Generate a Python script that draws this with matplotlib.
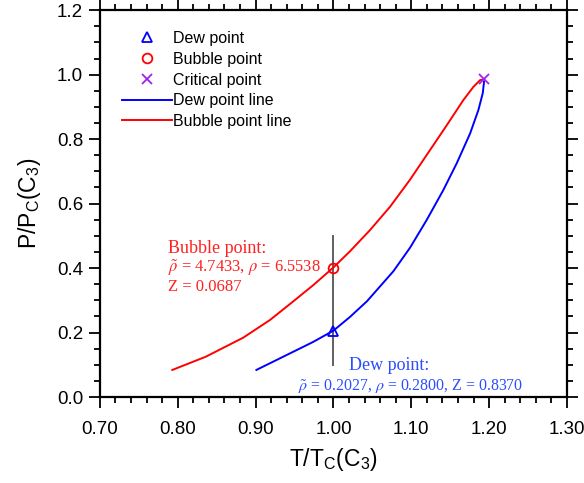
import numpy as np
import matplotlib
matplotlib.use("Agg")
import matplotlib.pyplot as plt
from matplotlib.ticker import MultipleLocator, FormatStrFormatter
from matplotlib.legend_handler import HandlerLine2D

plt.rcParams["font.family"] = ["Liberation Sans", "DejaVu Sans"]
plt.rcParams["mathtext.fontset"] = "stix"

# Bubble point line (red)
T_bubble = [0.793, 0.836, 0.884, 0.9185, 0.948, 0.974, 1.000, 1.0212, 1.047, 1.0726, 1.098,
            1.124, 1.1455, 1.1668, 1.1797, 1.1883, 1.1934]
P_bubble = [0.084, 0.125, 0.184, 0.239, 0.296, 0.347, 0.402, 0.452, 0.518, 0.590, 0.673,
            0.766, 0.843, 0.921, 0.962, 0.983, 0.985]

# Dew point line (blue)
T_dew = [0.901, 0.948, 0.974, 1.000, 1.021, 1.043, 1.0769, 1.0983, 1.1197, 1.1411, 1.1583,
         1.1754, 1.1861, 1.1917, 1.1934]
P_dew = [0.084, 0.140, 0.171, 0.206, 0.248, 0.297, 0.390, 0.463, 0.549, 0.642, 0.725,
         0.817, 0.890, 0.942, 0.978]

# single points
dew_pt = (1.0, 0.206)
bubble_pt = (1.0, 0.400)
crit_pt = (1.1935, 0.985)
vline_T = 1.0
vline_P = (0.10, 0.50)


class ShiftedMarker(HandlerLine2D):
    # marker sits right of the handle centre, like the original legend
    def get_xdata(self, legend, xdescent, ydescent, width, height, fontsize):
        xd, xm = super().get_xdata(legend, xdescent, ydescent, width, height, fontsize)
        return xd, [x + 0.2 * width for x in xm]


fig = plt.figure(figsize=(5.84, 4.83), dpi=100)
ax = fig.add_axes([0.171, 0.178, 0.800, 0.801])

ax.plot(T_dew, P_dew, color="#0000ff", lw=1.4, label="Dew point line", zorder=3)
ax.plot(T_bubble, P_bubble, color="#ff0000", lw=1.4, label="Bubble point line", zorder=3)
ax.plot([vline_T, vline_T], vline_P, color="#606060", lw=1.4, zorder=2)

ax.plot(*dew_pt, ls="none", marker="^", ms=7, mfc="none", mec="#0000ff", mew=1.3, label="Dew point", zorder=4)
ax.plot(*bubble_pt, ls="none", marker="o", ms=7, mfc="none", mec="#ff0000", mew=1.3, label="Bubble point", zorder=4)
ax.plot(*crit_pt, ls="none", marker="x", ms=7, mec="#a020f0", mew=1.3, label="Critical point", zorder=4)

handles, labels = ax.get_legend_handles_labels()
order = [2, 3, 4, 0, 1]
hmap = {handles[i]: ShiftedMarker(numpoints=1) for i in (2, 3, 4)}
ax.legend([handles[i] for i in order], [labels[i] for i in order], handler_map=hmap,
          loc="upper left", bbox_to_anchor=(0.048, 0.946), frameon=False,
          fontsize=11.5, handlelength=3.1, handletextpad=0.1, labelspacing=0.36,
          borderpad=0, borderaxespad=0, numpoints=1)

# annotations
serif = ["Liberation Serif", "DejaVu Serif"]
red_txt = "#ff2020"
ax.text(0.787, 0.448, "Bubble point:", color=red_txt, fontsize=13, family=serif)
ax.text(0.787, 0.387, r"$\tilde{\rho}$ = 4.7433, $\rho$ = 6.5538", color=red_txt, fontsize=11.9, family=serif)
ax.text(0.787, 0.328, "Z = 0.0687", color=red_txt, fontsize=12, family=serif)

blue_txt = "#2a4dff"
ax.text(1.020, 0.084, "Dew point:", color=blue_txt, fontsize=13, family=serif)
ax.text(0.9545, 0.022, r"$\tilde{\rho}$ = 0.2027, $\rho$ = 0.2800, Z = 0.8370", color=blue_txt, fontsize=11.4, family=serif)

ax.set_xlim(0.70, 1.30)
ax.set_ylim(0.0, 1.2)
ax.xaxis.set_major_locator(MultipleLocator(0.1))
ax.xaxis.set_minor_locator(MultipleLocator(0.02))
ax.yaxis.set_major_locator(MultipleLocator(0.2))
ax.yaxis.set_minor_locator(MultipleLocator(0.05))
ax.xaxis.set_major_formatter(FormatStrFormatter("%.2f"))
ax.yaxis.set_major_formatter(FormatStrFormatter("%.1f"))

ax.tick_params(which="both", direction="out", top=True, right=True, labeltop=False, labelright=False, width=1.3)
ax.tick_params(which="major", length=8, labelsize=13.5)
ax.tick_params(axis="x", which="major", pad=9)
ax.tick_params(axis="y", which="major", pad=4)
ax.tick_params(which="minor", length=4)
for s in ax.spines.values():
    s.set_linewidth(1.6)

ax.set_xlabel(r"T/T$\mathregular{_C}$(C$\mathregular{_3}$)", fontsize=16.5, labelpad=6)
ax.set_ylabel(r"P/P$\mathregular{_C}$(C$\mathregular{_3}$)", fontsize=16.5, labelpad=10)

fig.savefig("out.png", dpi=100)
